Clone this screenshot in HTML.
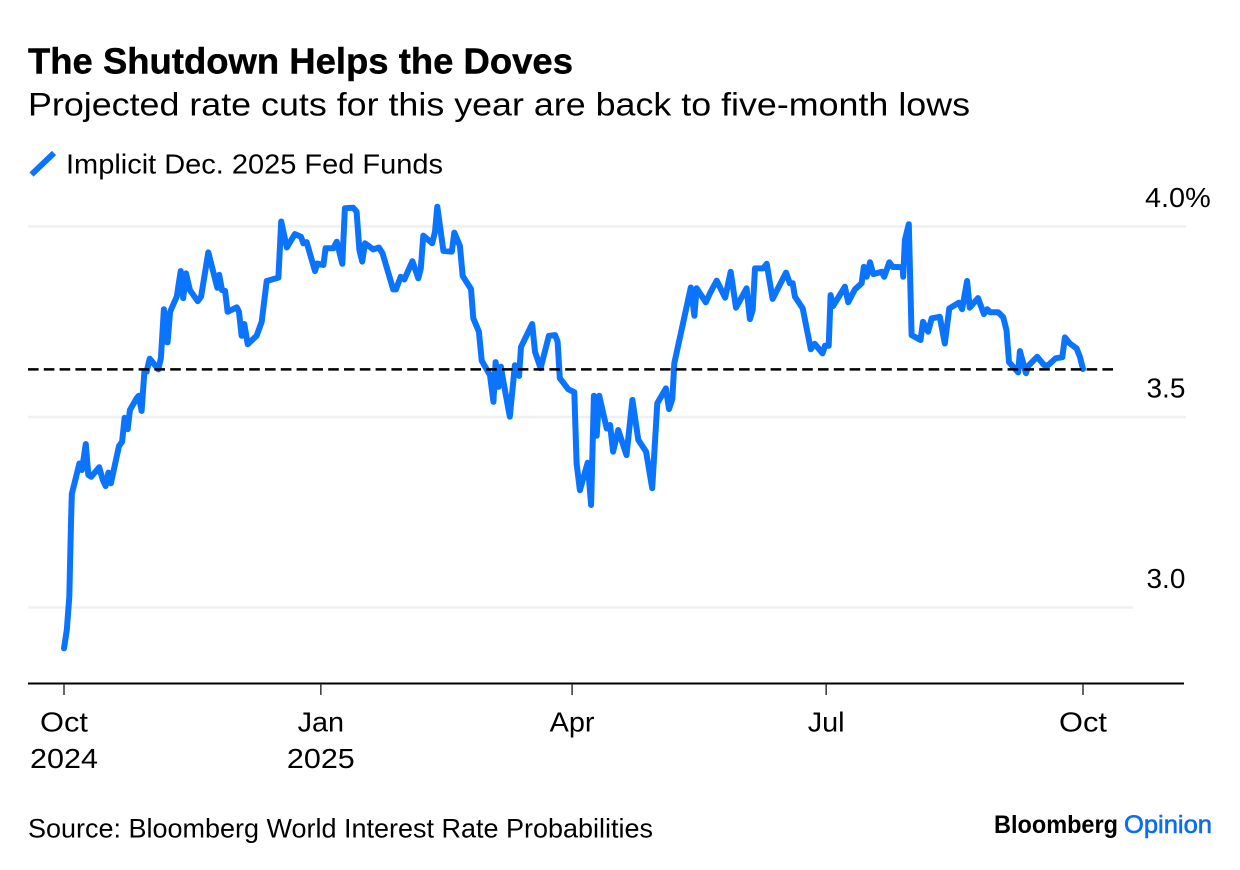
<!DOCTYPE html>
<html lang="en">
<head>
<meta charset="utf-8">
<title>The Shutdown Helps the Doves</title>
<style>
html,body{margin:0;padding:0;background:#fff;width:1240px;height:870px;overflow:hidden}
svg{display:block}
text{font-family:"Liberation Sans",Arial,sans-serif;fill:#000}
</style>
</head>
<body>
<svg id="chart" xmlns="http://www.w3.org/2000/svg" width="1240" height="870" viewBox="0 0 1240 870">
  <rect x="0" y="0" width="1240" height="870" fill="#fff"/>
  <text x="28" y="73.5" font-size="36" font-weight="700" textLength="545" lengthAdjust="spacingAndGlyphs" style="stroke:#000;stroke-width:.4px">The Shutdown Helps the Doves</text>
  <text x="28" y="115.5" font-size="32" textLength="942" lengthAdjust="spacingAndGlyphs">Projected rate cuts for this year are back to five-month lows</text>
  <line x1="31.5" y1="174.5" x2="54" y2="153" stroke="#0a74ff" stroke-width="6"/>
  <text x="66" y="173.5" font-size="28" textLength="377" lengthAdjust="spacingAndGlyphs">Implicit Dec. 2025 Fed Funds</text>
  <g id="grid"></g>
  <g id="yLabels"></g>
  <g id="series"></g>
  <g id="xAxis"></g>
  <text x="28" y="837.5" font-size="26.5" textLength="625" lengthAdjust="spacingAndGlyphs">Source: Bloomberg World Interest Rate Probabilities</text>
  <text x="994" y="833" font-size="25" font-weight="700" textLength="124" lengthAdjust="spacingAndGlyphs">Bloomberg</text>
  <text x="1124" y="833" font-size="25" font-weight="400" textLength="88" lengthAdjust="spacingAndGlyphs" style="fill:#0a6cf5;stroke:#0a6cf5;stroke-width:.6px">Opinion</text>
</svg>
<script>
// Days elapsed since 1 Oct 2024
const days = [0,1,1.9,2.5,2.8,5.5,6.4,7.8,8.7,9.7,12.6,13.9,14.9,15.9,16.8,19.7,20.8,21.7,22.8,23.6,26,26.8,27.8,28.8,29.6,30.7,33.8,34.7,35.8,36.4,37.1,38,40.4,41.8,42.7,43.7,45.1,47.9,49.1,51.7,54.9,55.6,56.6,57.7,58.6,61.9,62.7,63.6,64.6,65.8,69,70.8,72.6,76.8,77.8,79.8,82.7,84.9,85.7,86.9,89.9,90.7,92.9,93.7,96.5,97.7,99.7,100.6,103.6,104.8,105.8,106.8,107.8,110.8,112.8,114.1,117.9,118.9,120.6,121.9,124.8,126.9,127.8,128.7,131.9,132.9,133.7,135.9,138.9,139.8,141.8,142.8,145.8,146.6,148.6,149.6,152.6,153.8,154.6,155.6,156.5,157.3,159.7,161.5,163,163.7,167.7,168.7,170.7,173.7,175.9,176.8,177.6,180.6,182.8,183.6,184.8,187.6,188.8,189.8,190.8,191.7,194.4,195.6,196.7,198.5,201.5,203.6,205.7,208.5,210.7,212.5,215.6,216.7,217.9,218.6,224.5,225.8,226.6,229.9,231.4,233.8,236.8,238.8,240.7,244.5,245.7,246.7,247.5,250.5,251.7,253.8,258.6,260,261,261.8,264.6,267.5,268.9,271.7,272.6,273.9,274.6,275.5,279.7,280.9,283.3,285.7,286.5,287.5,288.7,289.9,292.9,293.8,295.6,296.8,300.4,300.6,301.2,302.6,303.6,306.8,307.7,309.5,310.8,313.7,315.5,317.1,320.5,321.7,323.5,324.4,327.4,329.5,330.7,331.7,334.6,336.4,337.6,338.5,341.8,342.4,344.6,345.4,348.6,351.1,352.5,355.2,357.6,358.5,360.3,362.7,363.9,365];
// Implied Dec. 2025 fed funds rate, percent
const rates = [2.893,2.941,3.028,3.222,3.298,3.378,3.361,3.429,3.348,3.343,3.368,3.335,3.319,3.354,3.326,3.424,3.435,3.498,3.468,3.518,3.549,3.556,3.516,3.619,3.619,3.653,3.625,3.655,3.783,3.698,3.696,3.776,3.816,3.883,3.812,3.877,3.833,3.804,3.816,3.932,3.839,3.873,3.833,3.831,3.776,3.788,3.776,3.713,3.744,3.691,3.713,3.75,3.857,3.866,4.013,3.945,3.98,3.973,3.956,3.959,3.883,3.903,3.899,3.943,3.943,3.96,3.902,4.048,4.049,4.039,3.938,3.908,3.956,3.94,3.945,3.93,3.835,3.835,3.868,3.861,3.909,3.864,3.89,3.976,3.956,3.986,4.052,3.936,3.934,3.984,3.949,3.87,3.836,3.759,3.724,3.648,3.61,3.54,3.644,3.579,3.632,3.597,3.501,3.636,3.608,3.684,3.744,3.671,3.628,3.713,3.715,3.698,3.602,3.573,3.565,3.378,3.308,3.38,3.269,3.556,3.451,3.556,3.47,3.479,3.409,3.466,3.4,3.545,3.44,3.409,3.313,3.536,3.575,3.521,3.547,3.641,3.84,3.766,3.838,3.801,3.825,3.858,3.813,3.881,3.787,3.838,3.757,3.781,3.89,3.89,3.902,3.81,3.879,3.851,3.851,3.816,3.785,3.678,3.692,3.667,3.687,3.687,3.82,3.791,3.842,3.801,3.835,3.851,3.894,3.868,3.906,3.875,3.881,3.868,3.906,3.894,3.893,3.868,3.965,4.006,3.715,3.702,3.75,3.724,3.759,3.763,3.693,3.785,3.8,3.783,3.857,3.787,3.812,3.77,3.783,3.775,3.775,3.762,3.728,3.644,3.617,3.673,3.615,3.634,3.658,3.636,3.636,3.654,3.657,3.709,3.693,3.68,3.658,3.626];
const referenceRate = 3.625;
const yTicks = [4.0, 3.5, 3.0];
const yTickLabels = ['4.0%', '3.5', '3.0'];
const xTickDays = [0, 92, 182, 273, 365];
const xTickMonths = ['Oct', 'Jan', 'Apr', 'Jul', 'Oct'];
const xTickYears = ['2024', '2025', '', '', ''];

function xScale(d) { return 64 + d * (1019 / 365); }
function yScale(v) { return 226.5 + (4 - v) * 381; }

const NS = 'http://www.w3.org/2000/svg';
function make(tag, parent, attrs) {
  const el = document.createElementNS(NS, tag);
  for (const k in attrs) el.setAttribute(k, attrs[k]);
  parent.appendChild(el);
  return el;
}
// The reference face runs a little wider than Liberation Sans at the same height.
function widen(el, factor) {
  el.setAttribute('textLength', (el.getComputedTextLength() * factor).toFixed(1));
  el.setAttribute('lengthAdjust', 'spacingAndGlyphs');
}

const grid = document.getElementById('grid');
const yLabels = document.getElementById('yLabels');
yTicks.forEach(function (t, i) {
  const y = yScale(t);
  const line = make('line', grid, { x1: 28, x2: t === 3 ? 1133 : 1186, y1: y, y2: y, stroke: '#f0f0f0', 'stroke-width': 2.5 });
  
  
  const label = make('text', yLabels, { x: i === 0 ? 1145 : 1146.5, y: y - 19.5, 'font-size': 28 });
  
  
  label.textContent = yTickLabels[i];
  widen(label, i === 0 ? 1.03 : 1.0);
});

const series = document.getElementById('series');
const path = make('path', series, {
  d: days.map(function (d, i) { return (i ? 'L' : 'M') + xScale(d).toFixed(1) + ' ' + yScale(rates[i]).toFixed(1); }).join(' '),
  fill: 'none', stroke: '#0a74ff', 'stroke-width': 6, 'stroke-linejoin': 'round', 'stroke-linecap': 'round'
});



const refY = yScale(referenceRate);
const refLine = make('line', series, { x1: 28, x2: 1113, y1: refY, y2: refY, stroke: '#000', 'stroke-width': 2.5, 'stroke-dasharray': '10.6 5.2' });



const xAxis = document.getElementById('xAxis');
const axisLine = make('line', xAxis, { x1: 28, x2: 1184, y1: 683.5, y2: 683.5, stroke: '#000', 'stroke-width': 2 });


xTickDays.forEach(function (d, i) {
  const x = xScale(d);
  const tick = make('line', xAxis, { x1: x, x2: x, y1: 684, y2: 695, stroke: '#333', 'stroke-width': 1.5 });
  
  
  const month = make('text', xAxis, { x: x, y: 731.5, 'font-size': 28, 'text-anchor': 'middle' });
  
  
  month.textContent = xTickMonths[i];
  widen(month, xTickMonths[i] === 'Oct' ? 1.1 : 1.03);
  if (xTickYears[i]) {
    const year = make('text', xAxis, { x: x, y: 768, 'font-size': 28, 'text-anchor': 'middle' });
    
    
    year.textContent = xTickYears[i];
    widen(year, 1.09);
  }
});
</script>
</body>
</html>
